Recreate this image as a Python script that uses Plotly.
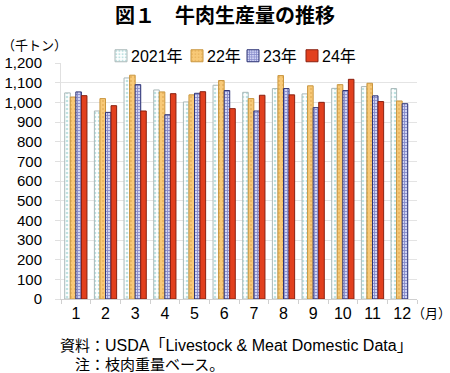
import plotly.graph_objects as go

months = ["1", "2", "3", "4", "5", "6", "7", "8", "9", "10", "11", "12"]
y2021 = [1048, 956, 1124, 1063, 1002, 1087, 1051, 1070, 1043, 1071, 1080, 1070]
y2022 = [1027, 1019, 1138, 1053, 1038, 1111, 1019, 1136, 1084, 1090, 1097, 1007]
y2023 = [1053, 949, 1090, 937, 1046, 1060, 956, 1070, 973, 1060, 1033, 993]
y2024 = [1034, 983, 956, 1044, 1054, 968, 1036, 1038, 1000, 1117, 1004, None]
series_names = ["2021年", "22年", "23年", "24年"]
y_ticks = [0, 100, 200, 300, 400, 500, 600, 700, 800, 900, 1000, 1100, 1200]

FONT = "Liberation Sans, Noto Sans CJK JP, sans-serif"
JFONT = "Noto Sans CJK JP, sans-serif"

L, R, T, B = 61, 33, 63, 74
W, H = 450, 373
PW, PH = W - L - R, H - T - B

styles = [
    dict(color="#FFFFFF", line=dict(color="#A9B8B8", width=1),
         pattern=dict(shape=".", fgcolor="#7FC6C6", bgcolor="#FFFFFF", size=4, solidity=0.35)),
    dict(color="#F7C673", line=dict(color="#C9963F", width=1),
         pattern=dict(shape=".", fgcolor="#D49A40", bgcolor="#F8C977", size=4, solidity=0.2)),
    dict(color="#FFFFFF", line=dict(color="#2E3475", width=1),
         pattern=dict(shape="+", fgcolor="#3A40A0", bgcolor="#D0D4F4", size=3, solidity=0.5)),
    dict(color="#E2401E", line=dict(color="#8A2010", width=1)),
]
# legend square centres and text starts (px) as in the reference
legend_sq_x = [121, 197, 253, 312]
legend_text_x = [130, 206, 262, 321]
legend_names = ["legend", "legend2", "legend3", "legend4"]
LEG_Y = 56

fig = go.Figure()
for vals, st, lg in zip([y2021, y2022, y2023, y2024], styles, legend_names):
    fig.add_trace(go.Bar(x=months, y=vals, name="", marker=st, legend=lg))

legend_py = (H - B - LEG_Y) / PH
leg_layout = {}
for lg, sx in zip(legend_names, legend_sq_x):
    left_px = sx - 20
    leg_layout[lg] = dict(orientation="h", x=(left_px - L) / PW, xanchor="left",
                          y=legend_py, yanchor="middle",
                          font=dict(family=FONT, size=15), itemwidth=30,
                          bgcolor="rgba(0,0,0,0)", borderwidth=0)

fig.update_layout(
    width=W, height=H,
    margin=dict(l=L, r=R, t=T, b=B, autoexpand=False),
    paper_bgcolor="white", plot_bgcolor="white",
    barmode="group", bargap=0.25, bargroupgap=0.0,
    font=dict(family=FONT, size=14, color="#000000"),
    showlegend=True,
    hovermode=False,
    **leg_layout,
)

def px_ann(text, x, y, xanchor="left", size=14, family=FONT):
    px = (x - L) / PW
    py = (H - B - y) / PH
    fig.add_annotation(text=text, x=px, y=py, xref="paper", yref="paper",
                       xanchor=xanchor, yanchor="middle", showarrow=False,
                       font=dict(family=family, size=size, color="#000000"))

for nm, tx in zip(series_names, legend_text_x):
    px_ann(nm, tx - 1, LEG_Y, size=16, family=FONT)

px_ann("<b>図１　牛肉生産量の推移</b>", 225, 14, xanchor="center", size=20, family=JFONT)
px_ann("（千トン）", 0, 44, size=13, family=JFONT)
px_ann("（月）", 410, 312, size=13, family=JFONT)
px_ann("<span style='font-size:15px'>資料：</span>USDA「Livestock &amp; Meat Domestic Data」",
       58, 345, size=16, family=FONT)
px_ann("注：枝肉重量ベース。", 73, 363, size=15, family=JFONT)

fig.update_xaxes(
    showgrid=False, showline=True, linecolor="#D0D0D0", linewidth=1,
    ticks="outside", tickson="boundaries", ticklen=4, tickcolor="#D0D0D0",
    tickfont=dict(family=FONT, size=16), fixedrange=True,
)
fig.update_yaxes(
    range=[0, 1200], tickvals=y_ticks, tickformat=",d",
    showgrid=True, gridcolor="#E4E4E4", gridwidth=1,
    showline=True, linecolor="#E0E0E0", ticks="outside", ticklen=5, tickcolor="#E0E0E0",
    zeroline=False, tickfont=dict(family=FONT, size=15), fixedrange=True,
    ticklabelstandoff=10,
)

fig.write_html("out.html", config={"displayModeBar": False},
               post_script="document.body.style.margin='0';")
